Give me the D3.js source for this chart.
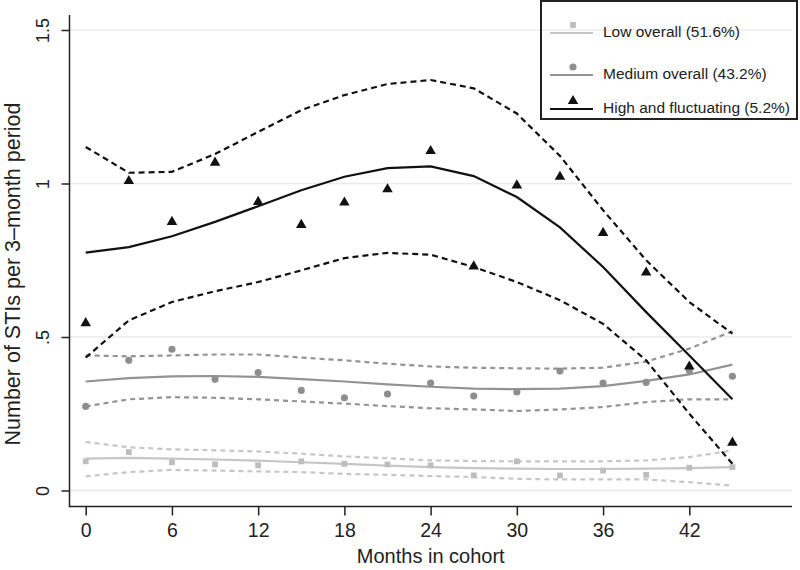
<!DOCTYPE html>
<html lang="en">
<head>
<meta charset="UTF-8">
<title>STIs per 3-month period</title>
<script src="https://d3js.org/d3.v7.min.js"></script>
<style>
    body { margin: 0; background: #fff; }
    svg { font-family: "Liberation Sans", Arial, Helvetica, sans-serif; }
</style>
</head>
<body>
<div id="chart"></div>
<script>
    const months = [0, 3, 6, 9, 12, 15, 18, 21, 24, 27, 30, 33, 36, 39, 42, 45];
    const xTicks = [0, 6, 12, 18, 24, 30, 36, 42];
    const yTicks = [0, 0.5, 1, 1.5];
    const yTickLabels = ["0", ".5", "1", "1.5"];

    const lowPts = [0.095, 0.125, 0.092, 0.085, 0.082, 0.095, 0.087, 0.085, 0.082, 0.049, 0.095, 0.049, 0.065, 0.051, 0.074, 0.076];
    const lowFit = [0.104, 0.106, 0.104, 0.101, 0.097, 0.092, 0.087, 0.081, 0.076, 0.073, 0.071, 0.070, 0.070, 0.071, 0.073, 0.076];
    const lowUp  = [0.158, 0.141, 0.134, 0.131, 0.127, 0.120, 0.111, 0.105, 0.098, 0.096, 0.095, 0.095, 0.095, 0.098, 0.109, 0.130];
    const lowLo  = [0.046, 0.060, 0.067, 0.065, 0.062, 0.060, 0.054, 0.051, 0.047, 0.044, 0.038, 0.036, 0.036, 0.036, 0.027, 0.016];

    const medPts = [0.274, 0.424, 0.460, 0.362, 0.384, 0.326, 0.302, 0.314, 0.350, 0.308, 0.321, 0.389, 0.350, 0.352, 0.391, 0.372];
    const medFit = [0.355, 0.366, 0.372, 0.373, 0.370, 0.363, 0.355, 0.346, 0.338, 0.332, 0.330, 0.332, 0.340, 0.357, 0.378, 0.410];
    const medUp  = [0.440, 0.437, 0.440, 0.443, 0.443, 0.433, 0.424, 0.413, 0.404, 0.400, 0.398, 0.397, 0.400, 0.420, 0.462, 0.519];
    const medLo  = [0.274, 0.297, 0.304, 0.302, 0.297, 0.290, 0.283, 0.275, 0.268, 0.264, 0.259, 0.264, 0.272, 0.288, 0.297, 0.297];

    const highPts = [0.545, 1.008, 0.875, 1.068, 0.940, 0.865, 0.938, 0.981, 1.106, 0.730, 0.994, 1.022, 0.839, 0.710, 0.404, 0.156];
    const highFit = [0.775, 0.793, 0.828, 0.875, 0.926, 0.978, 1.022, 1.050, 1.056, 1.024, 0.956, 0.857, 0.728, 0.581, 0.440, 0.297];
    const highUp  = [1.119, 1.035, 1.038, 1.096, 1.168, 1.239, 1.288, 1.324, 1.337, 1.310, 1.228, 1.090, 0.913, 0.750, 0.614, 0.511];
    const highLo  = [0.433, 0.554, 0.614, 0.649, 0.679, 0.717, 0.757, 0.774, 0.768, 0.728, 0.679, 0.620, 0.543, 0.424, 0.250, 0.087];

    const groups = [
        { name: "Low overall (51.6%)", pts: lowPts, fit: lowFit, up: lowUp, lo: lowLo,
          color: "#c6c6c6", markColor: "#bdbdbd", symbol: d3.symbolSquare, size: 34, dash: "5,4" },
        { name: "Medium overall (43.2%)", pts: medPts, fit: medFit, up: medUp, lo: medLo,
          color: "#939393", markColor: "#8e8e8e", symbol: d3.symbolCircle, size: 40, dash: "5,4" },
        { name: "High and fluctuating (5.2%)", pts: highPts, fit: highFit, up: highUp, lo: highLo,
          color: "#111", markColor: "#111", symbol: d3.symbolTriangle, size: 48, dash: "6,4" }
    ];

    const width = 800, height = 570;
    const plotLeft = 69.5, plotRight = 792, plotTop = 15, plotBottom = 506.5;

    const x = d3.scaleLinear().domain([0, 42]).range([85.7, 689.3]);
    const y = d3.scaleLinear().domain([0, 1.5]).range([490.5, 30]);

    const svg = d3.select("#chart").append("svg")
        .attr("width", width)
        .attr("height", height);

    // gridlines
    svg.append("g")
        .selectAll("line")
        .data(yTicks)
        .enter().append("line")
        .attr("x1", plotLeft).attr("x2", plotRight)
        .attr("y1", d => y(d)).attr("y2", d => y(d))
        .attr("stroke", "#ebebeb")
        .attr("stroke-width", 1.5);

    // x axis
    const xAxis = svg.append("g")
        .attr("transform", `translate(0,${plotBottom})`)
        .call(d3.axisBottom(x).tickValues(xTicks).tickSize(9).tickPadding(6));
    xAxis.select(".domain").remove();
    xAxis.selectAll(".tick line").attr("stroke", "#222").attr("stroke-width", 1.5);
    xAxis.selectAll(".tick text")
        .attr("font-size", 19.5).attr("fill", "#222").attr("font-family", "inherit")
        .attr("dy", null).attr("y", 30.5);

    // y axis
    const yAxis = svg.append("g")
        .attr("transform", `translate(${plotLeft},0)`)
        .call(d3.axisLeft(y).tickValues(yTicks).tickSize(8)
            .tickFormat((d, i) => yTickLabels[i]));
    yAxis.select(".domain").remove();
    yAxis.selectAll(".tick line").attr("stroke", "#222").attr("stroke-width", 1.5);
    yAxis.selectAll(".tick text")
        .attr("font-size", 18).attr("fill", "#222").attr("font-family", "inherit")
        .attr("x", null).attr("dy", null)
        .attr("text-anchor", "middle")
        .attr("transform", "translate(-21,0) rotate(-90)");

    // axis frame lines
    svg.append("line")
        .attr("x1", plotLeft).attr("x2", plotLeft).attr("y1", plotTop).attr("y2", plotBottom + 0.75)
        .attr("stroke", "#222").attr("stroke-width", 1.5);
    svg.append("line")
        .attr("x1", plotLeft).attr("x2", plotRight).attr("y1", plotBottom).attr("y2", plotBottom)
        .attr("stroke", "#222").attr("stroke-width", 1.5);

    const line = d3.line()
        .x((d, i) => x(months[i]))
        .y(d => y(d));

    groups.forEach(g => {
        const layer = svg.append("g");
        [g.up, g.lo].forEach(arr => {
            layer.append("path")
                .datum(arr)
                .attr("fill", "none")
                .attr("stroke", g.color)
                .attr("stroke-width", 2.2)
                .attr("stroke-dasharray", g.dash)
                .attr("d", line);
        });
        layer.append("path")
            .datum(g.fit)
            .attr("fill", "none")
            .attr("stroke", g.color)
            .attr("stroke-width", 2.2)
            .attr("d", line);
        layer.selectAll(".pt")
            .data(g.pts)
            .enter().append("path")
            .attr("class", "pt")
            .attr("transform", (d, i) => `translate(${x(months[i])},${y(d)})`)
            .attr("d", d3.symbol().type(g.symbol).size(g.size))
            .attr("fill", g.markColor);
    });

    // x title
    svg.append("text")
        .attr("x", (plotLeft + plotRight) / 2)
        .attr("y", 563)
        .attr("text-anchor", "middle")
        .attr("font-size", 20)
        .attr("fill", "#222")
        .text("Months in cohort");

    // y title
    svg.append("text")
        .attr("transform", "translate(20,274) rotate(-90)")
        .attr("text-anchor", "middle")
        .attr("font-size", 21.5)
        .attr("fill", "#222")
        .text("Number of STIs per 3\u2013month period");

    // legend
    const legend = svg.append("g");
    legend.append("rect")
        .attr("x", 541).attr("y", 1)
        .attr("width", 256).attr("height", 118)
        .attr("fill", "none")
        .attr("stroke", "#222")
        .attr("stroke-width", 2);

    const legendY = [33, 75, 109];
    groups.forEach((g, i) => {
        const row = legend.append("g").attr("transform", `translate(0,${legendY[i]})`);
        row.append("line")
            .attr("x1", 550).attr("x2", 593)
            .attr("y1", 0).attr("y2", 0)
            .attr("stroke", g.color)
            .attr("stroke-width", 2.2);
        row.append("path")
            .attr("transform", "translate(573,-8)")
            .attr("d", d3.symbol().type(g.symbol).size(g.size))
            .attr("fill", g.markColor);
        row.append("text")
            .attr("x", 603)
            .attr("y", 4)
            .attr("font-size", 15.5)
            .attr("fill", "#222")
            .text(g.name);
    });
</script>
</body>
</html>
